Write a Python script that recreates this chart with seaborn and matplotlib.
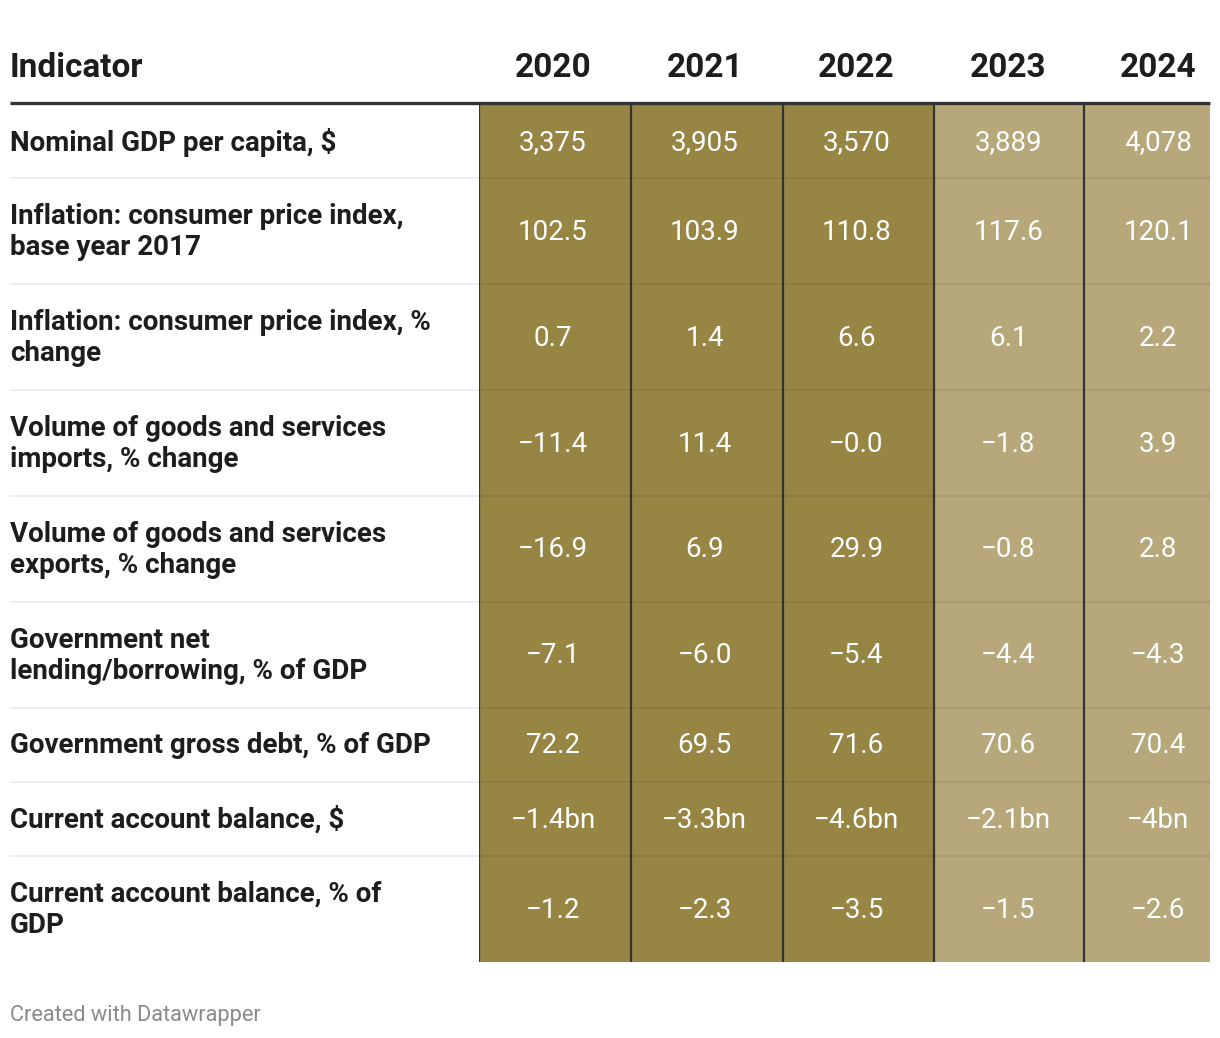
import numpy as np
import matplotlib
matplotlib.use("Agg")
import matplotlib.pyplot as plt
from matplotlib.colors import ListedColormap
import seaborn as sns

# ---------------- data ----------------
indicators = [
    "Nominal GDP per capita, $",
    "Inflation: consumer price index,\nbase year 2017",
    "Inflation: consumer price index, %\nchange",
    "Volume of goods and services\nimports, % change",
    "Volume of goods and services\nexports, % change",
    "Government net\nlending/borrowing, % of GDP",
    "Government gross debt, % of GDP",
    "Current account balance, $",
    "Current account balance, % of\nGDP",
]
years = ["2020", "2021", "2022", "2023", "2024"]
projection = [0, 0, 0, 1, 1]  # 2023-2024 shown in lighter shade

v2020 = ["3,375", "102.5", "0.7", "\u221211.4", "\u221216.9", "\u22127.1", "72.2", "\u22121.4bn", "\u22121.2"]
v2021 = ["3,905", "103.9", "1.4", "11.4", "6.9", "\u22126.0", "69.5", "\u22123.3bn", "\u22122.3"]
v2022 = ["3,570", "110.8", "6.6", "\u22120.0", "29.9", "\u22125.4", "71.6", "\u22124.6bn", "\u22123.5"]
v2023 = ["3,889", "117.6", "6.1", "\u22121.8", "\u22120.8", "\u22124.4", "70.6", "\u22122.1bn", "\u22121.5"]
v2024 = ["4,078", "120.1", "2.2", "3.9", "2.8", "\u22124.3", "70.4", "\u22124bn", "\u22122.6"]
values = [v2020, v2021, v2022, v2023, v2024]

# ---------------- layout ----------------
W, H = 1220, 1038
DARK, LIGHT = "#978544", "#b6a87b"
row_units = [7 if "\n" not in s else 10 for s in indicators]
col_units = [76, 76, 76, 75, 63]

sns.set_theme(style="white")
plt.rcParams["font.family"] = ["Roboto", "DejaVu Sans"]

fig = plt.figure(figsize=(W / 100, H / 100), dpi=100)
fig.patch.set_facecolor("white")

# table body (heatmap)
x0, x1 = 479, 1210
y0, y1 = 104, 962
ax = fig.add_axes([x0 / W, 1 - y1 / H, (x1 - x0) / W, (y1 - y0) / H])
codes = np.array([projection] * len(indicators))
codes = np.repeat(np.repeat(codes, row_units, axis=0), col_units, axis=1)
sns.heatmap(codes, ax=ax, cmap=ListedColormap([DARK, LIGHT]), vmin=0, vmax=1,
            cbar=False, xticklabels=False, yticklabels=False, linewidths=0)
ax.set_xlim(0, sum(col_units))
ax.set_ylim(sum(row_units), 0)
for s in ax.spines.values():
    s.set_visible(False)

row_starts = np.concatenate([[0], np.cumsum(row_units)[:-1]])
col_starts = np.concatenate([[0], np.cumsum(col_units)[:-1]])
row_centers = row_starts + np.array(row_units) / 2.0
col_centers = col_starts + 37.0

for j, col in enumerate(values):
    for i, txt in enumerate(col):
        ax.text(col_centers[j], row_centers[i] + 0.1, txt, ha="center", va="center",
                fontsize=20, color="white", fontfamily=["Roboto", "DejaVu Sans"])
for cs in col_starts:
    ax.axvline(cs, color="#333333", lw=1.6, zorder=5)

# overlay for headers, labels, separators
ov = fig.add_axes([0, 0, 1, 1], facecolor="none")
ov.set_xlim(0, W)
ov.set_ylim(H, 0)
ov.axis("off")

px_per_unit_y = (y1 - y0) / sum(row_units)
px_per_unit_x = (x1 - x0) / sum(col_units)

ov.text(10, 68, "Indicator", ha="left", va="center", fontsize=24,
        fontweight="bold", color="#1d1d1d")
for j, yr in enumerate(years):
    ov.text(x0 + col_centers[j] * px_per_unit_x, 68, yr, ha="center", va="center",
            fontsize=24, fontweight="bold", color="#1d1d1d")
ov.plot([10, 1210], [103, 103], color="#333333", lw=2.4, solid_capstyle="butt")

for i, lab in enumerate(indicators):
    yc = y0 + row_centers[i] * px_per_unit_y
    ov.text(10, yc + 1, lab, ha="left", va="center", fontsize=20,
            fontweight="bold", color="#1d1d1d", linespacing=1.22)
for k in range(1, len(indicators)):
    yb = y0 + row_starts[k] * px_per_unit_y
    ov.plot([10, 1210], [yb, yb], color="black", alpha=0.07, lw=1.5)

ov.text(10, 1015, "Created with Datawrapper", ha="left", va="center",
        fontsize=15.7, color="#8a8a8a")

fig.savefig("out.png", dpi=100, facecolor="white")
